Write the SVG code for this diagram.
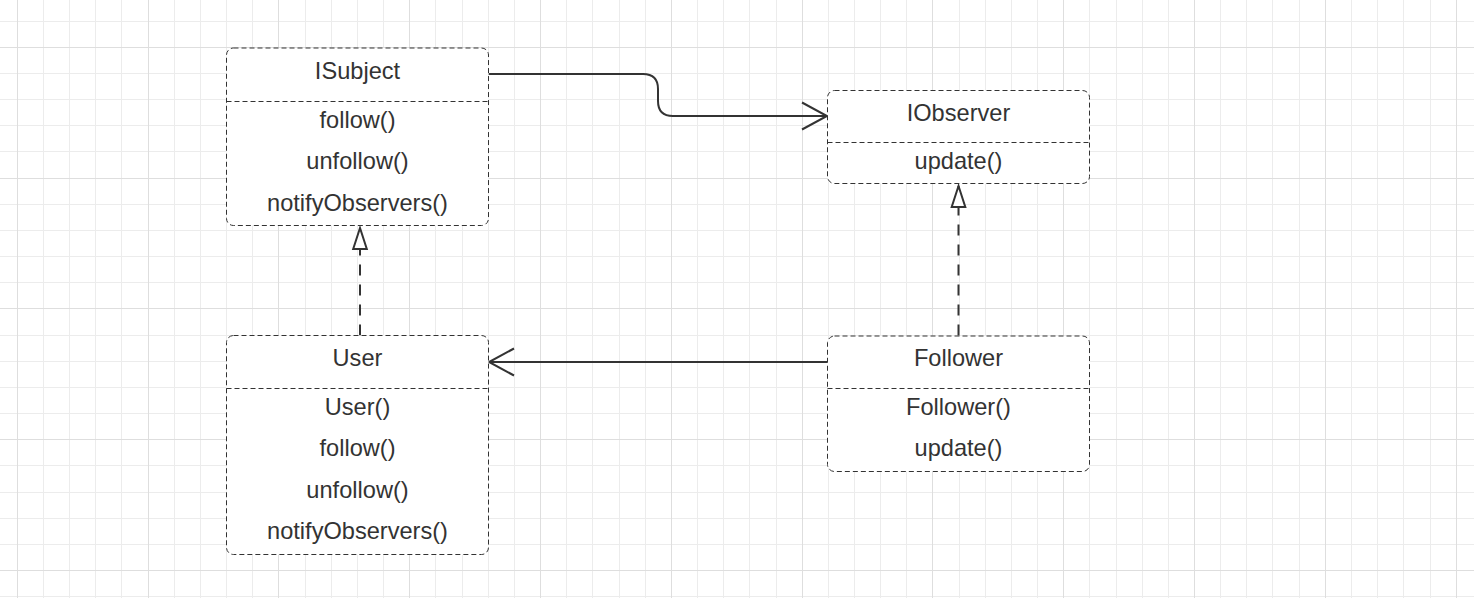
<svg xmlns="http://www.w3.org/2000/svg" width="1474" height="598" viewBox="0 0 1474 598">
  <style>
    .minor { stroke: #ececec; stroke-width: 1; fill: none; }
    .major { stroke: #dedede; stroke-width: 1; fill: none; }
    .box { fill: #ffffff; stroke: #333333; stroke-width: 1; stroke-dasharray: 5 3; }
    .div { stroke: #333333; stroke-width: 1; stroke-dasharray: 5 3; fill: none; }
    .t { font-family: "Liberation Sans", Arial, sans-serif; font-size: 23.6px; fill: #333333; text-anchor: middle; }
    .conn { stroke: #333333; stroke-width: 2; fill: none; }
    .dashconn { stroke: #333333; stroke-width: 2; fill: none; stroke-dasharray: 11 9; }
  </style>
  <defs>
    <marker id="open" markerUnits="userSpaceOnUse" orient="auto" refX="0" refY="0" markerWidth="30" markerHeight="30" overflow="visible">
      <path d="M-25,-13.5 L0,0 L-25,13.5" fill="none" stroke="#333333" stroke-width="2" stroke-dasharray="none"/>
    </marker>
    <marker id="tri" markerUnits="userSpaceOnUse" orient="auto" refX="0" refY="0" markerWidth="30" markerHeight="30" overflow="visible">
      <path d="M0,0 L-21,-6.8 L-21,6.8 Z" fill="#ffffff" stroke="#333333" stroke-width="2" stroke-dasharray="none"/>
    </marker>
  </defs>
  <rect x="0" y="0" width="1474" height="598" fill="#ffffff"/>
  <g id="grid">
    <path class="minor" d="M43.5,0V598M69.5,0V598M95.5,0V598M121.5,0V598M174.5,0V598M200.5,0V598M226.5,0V598M252.5,0V598M305.5,0V598M331.5,0V598M357.5,0V598M383.5,0V598M435.5,0V598M462.5,0V598M488.5,0V598M514.5,0V598M566.5,0V598M592.5,0V598M619.5,0V598M645.5,0V598M697.5,0V598M723.5,0V598M749.5,0V598M776.5,0V598M828.5,0V598M854.5,0V598M880.5,0V598M906.5,0V598M959.5,0V598M985.5,0V598M1011.5,0V598M1037.5,0V598M1089.5,0V598M1116.5,0V598M1142.5,0V598M1168.5,0V598M1220.5,0V598M1246.5,0V598M1272.5,0V598M1299.5,0V598M1351.5,0V598M1377.5,0V598M1403.5,0V598M1430.5,0V598M0,21.5H1474M0,73.5H1474M0,99.5H1474M0,125.5H1474M0,151.5H1474M0,204.5H1474M0,230.5H1474M0,256.5H1474M0,282.5H1474M0,335.5H1474M0,361.5H1474M0,387.5H1474M0,413.5H1474M0,465.5H1474M0,492.5H1474M0,518.5H1474M0,544.5H1474M0,596.5H1474"/>
    <path class="major" d="M17.5,0V598M148.5,0V598M278.5,0V598M409.5,0V598M540.5,0V598M671.5,0V598M802.5,0V598M932.5,0V598M1063.5,0V598M1194.5,0V598M1325.5,0V598M1456.5,0V598M0,47.5H1474M0,178.5H1474M0,308.5H1474M0,439.5H1474M0,570.5H1474"/>
  </g>
  <g id="connectors">
    <path class="conn" d="M488.5,74 L643,74 Q658,74 658,89 L658,101 Q658,116 673,116 L827,116" marker-end="url(#open)"/>
    <path class="conn" d="M827,362 L489,362" marker-end="url(#open)"/>
    <path class="dashconn" d="M360,335.5 L360,228" marker-end="url(#tri)"/>
    <path class="dashconn" d="M958.5,335.5 L958.5,186" marker-end="url(#tri)"/>
  </g>
  <g id="ISubject">
    <rect class="box" x="226.5" y="48" width="262" height="177.5" rx="7"/>
    <path class="div" d="M226.5,101.5H488.5"/>
    <text class="t" x="357.5" y="79">ISubject</text>
    <text class="t" x="357.5" y="127.5">follow()</text>
    <text class="t" x="357.5" y="169">unfollow()</text>
    <text class="t" x="357.5" y="210.5">notifyObservers()</text>
  </g>
  <g id="IObserver">
    <rect class="box" x="827.5" y="90.5" width="262" height="93" rx="7"/>
    <path class="div" d="M827.5,142.5H1089.5"/>
    <text class="t" x="958.5" y="120.5">IObserver</text>
    <text class="t" x="958.5" y="168.5">update()</text>
  </g>
  <g id="User">
    <rect class="box" x="226.5" y="335.5" width="262" height="219" rx="7"/>
    <path class="div" d="M226.5,388.5H488.5"/>
    <text class="t" x="357.5" y="366">User</text>
    <text class="t" x="357.5" y="414.5">User()</text>
    <text class="t" x="357.5" y="456">follow()</text>
    <text class="t" x="357.5" y="497.5">unfollow()</text>
    <text class="t" x="357.5" y="539">notifyObservers()</text>
  </g>
  <g id="Follower">
    <rect class="box" x="827.5" y="336" width="262" height="135.5" rx="7"/>
    <path class="div" d="M827.5,388.5H1089.5"/>
    <text class="t" x="958.5" y="366">Follower</text>
    <text class="t" x="958.5" y="414.5">Follower()</text>
    <text class="t" x="958.5" y="456">update()</text>
  </g>
</svg>
